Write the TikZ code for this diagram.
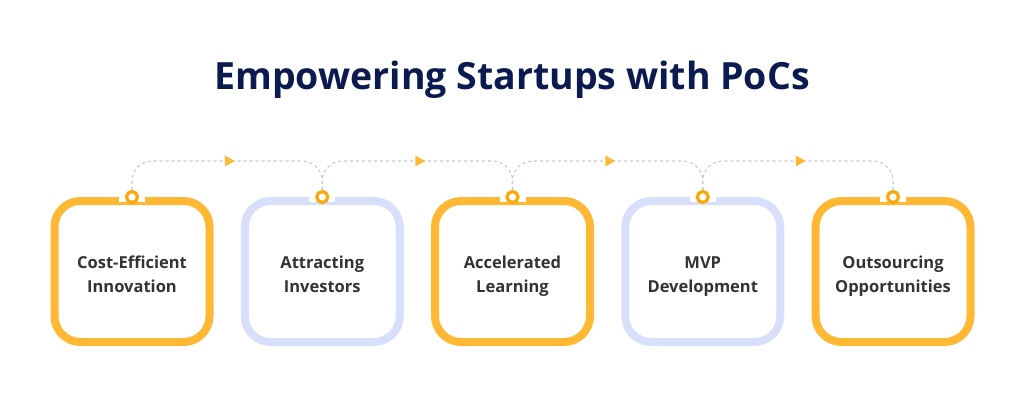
\documentclass[tikz,border=0pt]{standalone}
\usepackage{fontspec}
\setmainfont{Open Sans}
\usetikzlibrary{shapes.geometric,calc}
\definecolor{navy}{HTML}{0B1A4F}
\definecolor{boxorange}{HTML}{FFB833}
\definecolor{boxlilac}{HTML}{D8DFFA}
\definecolor{dotorange}{HTML}{F8A90C}
\definecolor{flowgray}{HTML}{C8C8C8}
\definecolor{labelgray}{HTML}{333333}
\newcommand{\upstrut}{\rule{0pt}{22pt}}
\newcommand{\downstrut}{\rule[-5pt]{0pt}{5pt}}
\begin{document}
\begin{tikzpicture}[x=1pt,y=-1pt,
  card/.style={draw=#1, line width=8pt, rounded corners=26pt, fill=white,
    minimum width=155pt, minimum height=141pt, align=center,
    font=\bfseries\fontsize{16.5}{24}\selectfont, text=labelgray},
  ring/.style={circle, draw=dotorange, line width=3.2pt, fill=white,
    minimum size=11pt, inner sep=0pt},
  flow/.style={draw=flowgray, line width=1.1pt, dash pattern=on 3pt off 3pt,
    rounded corners=20pt},
  tip/.style={isosceles triangle, isosceles triangle stretches, fill=boxorange,
    minimum width=11pt, minimum height=10pt, inner sep=0pt}]
\useasboundingbox (0,0) rectangle (1024,410);

\node[font=\bfseries\fontsize{37.5}{40}\selectfont, text=navy] (title) at (512,80) {Empowering Startups with PoCs};

% boxes with the ring on top
\foreach \i/\x/\col/\txt in {1/132/boxorange/{Cost-Efficient\\Innovation},
    2/322.25/boxlilac/{Attracting\\Investors},
    3/512.5/boxorange/{Accelerated\\Learning},
    4/702.75/boxlilac/{MVP\\Development},
    5/893/boxorange/{Outsourcing\\Opportunities}} {
    \node[card=\col] (box\i) at (\x,271.5) {\upstrut\txt\downstrut};
    \draw[white, line width=10pt] ($(box\i.north)+(-13,0)$) -- ($(box\i.north)+(13,0)$);
    \node[ring] (dot\i) at (box\i.north) {};
}

% dotted flow between the rings
\foreach \i/\j/\m in {1/2/228, 2/3/418.5, 3/4/608.5, 4/5/799} {
    \coordinate (mid\i) at (\m,161);
    \draw[flow] (dot\i.north) |- (mid\i) -| (dot\j.north);
    \node[tip] (tip\i) at (mid\i) {};
}
\end{tikzpicture}
\end{document}
